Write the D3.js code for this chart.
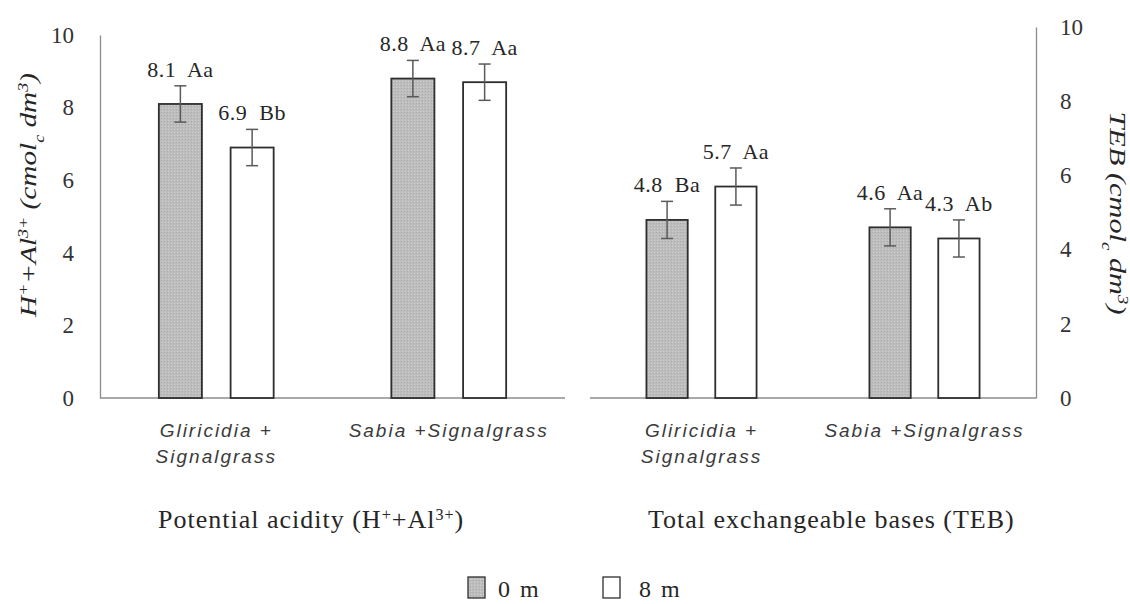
<!DOCTYPE html>
<html>
<head>
<meta charset="utf-8">
<script src="https://cdn.jsdelivr.net/npm/d3@7"></script>
<style>
  body { margin: 0; background: #fff; }
  svg text { font-family: "Liberation Serif", "Times New Roman", serif; fill: #262626; }
</style>
</head>
<body>
<script>
const categories = ["Gliricidia + Signalgrass", "Sabia +Signalgrass"];
const categoryLines = [["Gliricidia +", "Signalgrass"], ["Sabia +Signalgrass"]];
const seriesNames = ["0 m", "8 m"];
const yTicks = [0, 2, 4, 6, 8, 10];

// potential acidity (H+ + Al3+)
const acidity0m = [8.1, 8.8];
const acidity8m = [6.9, 8.7];
const acidityLetters0m = ["Aa", "Aa"];
const acidityLetters8m = ["Bb", "Aa"];
const acidityErr0m = [0.5, 0.5];
const acidityErr8m = [0.5, 0.5];

// total exchangeable bases (TEB)
const teb0m = [4.8, 4.6];
const teb8m = [5.7, 4.3];
const tebLetters0m = ["Ba", "Aa"];
const tebLetters8m = ["Aa", "Ab"];
const tebErr0m = [0.5, 0.5];
const tebErr8m = [0.5, 0.5];

let chart = (function () {
    const width = 1130, height = 604;
    const baseY = 398;
    let svg;

    let panels = [
        {
            title: [["Potential acidity (H"], ["+", "super"], ["+Al"], ["3+", "super"], [")"]],
            axisTitle: [["H"], ["+", "super"], ["+Al"], ["3+", "super"], [" (cmol"], ["c", "sub"], [" dm"], ["3", "super"], [")"]],
            v0: acidity0m, v8: acidity8m, l0: acidityLetters0m, l8: acidityLetters8m, e0: acidityErr0m, e8: acidityErr8m,
            left: 100, right: 565, top: 35, side: "left",
            axisTitlePos: { x: 28, y: 195, rot: -90, len: 244 }
        },
        {
            title: [["Total exchangeable bases (TEB)"]],
            axisTitle: [["TEB (cmol"], ["c", "sub"], [" dm"], ["3", "super"], [")"]],
            v0: teb0m, v8: teb8m, l0: tebLetters0m, l8: tebLetters8m, e0: tebErr0m, e8: tebErr8m,
            left: 590, right: 1036, top: 27, side: "right",
            axisTitlePos: { x: 1118, y: 213, rot: 90, len: 203 }
        }
    ];

    function rich(textSel, parts) {
        parts.forEach((p) => {
            let t = textSel.append("tspan").text(p[0]);
            if (p[1]) {
                t.attr("baseline-shift", p[1]).attr("font-size", "62%");
            }
        });
    }

    function init() {
        svg = d3.select("body").append("svg")
            .attr("width", width)
            .attr("height", height);

        let pat = svg.append("defs").append("pattern")
            .attr("id", "dots")
            .attr("patternUnits", "userSpaceOnUse")
            .attr("width", 3)
            .attr("height", 3);
        pat.append("rect").attr("width", 3).attr("height", 3).attr("fill", "#bdbdbd");
        pat.append("rect").attr("x", 0).attr("y", 0).attr("width", 1).attr("height", 1).attr("fill", "#cfcfcf");
        pat.append("rect").attr("x", 2).attr("y", 1).attr("width", 1).attr("height", 1).attr("fill", "#acacac");
    }

    function drawPanel(p) {
        let x = d3.scaleBand().domain(categories).range([p.left, p.right]);
        let xs = d3.scaleBand().domain(seriesNames).range([0, x.bandwidth()])
            .paddingInner(0.4).paddingOuter(0.82);
        let y = d3.scaleLinear().domain([0, 10]).range([baseY, p.top]);

        let rows = [];
        categories.forEach((c, i) => {
            rows.push({ cat: c, s: seriesNames[0], v: p.v0[i], e: p.e0[i], lab: p.v0[i].toFixed(1) + " " + p.l0[i] });
            rows.push({ cat: c, s: seriesNames[1], v: p.v8[i], e: p.e8[i], lab: p.v8[i].toFixed(1) + " " + p.l8[i] });
        });
        let cx = (d) => x(d.cat) + xs(d.s) + xs.bandwidth() / 2;

        // axis
        let axis = p.side === "left" ? d3.axisLeft(y) : d3.axisRight(y);
        axis.tickValues(yTicks).tickSize(0).tickSizeOuter(0).tickPadding(p.side === "left" ? 26 : 24);
        let g = svg.append("g")
            .attr("transform", `translate(${p.side === "left" ? p.left : p.right},0)`)
            .call(axis)
            .attr("font-family", null);
        g.select(".domain").attr("stroke", "#8c8c8c").attr("stroke-width", 1.3);
        g.selectAll(".tick text")
            .attr("font-size", 23)
            .style("font-family", "'Liberation Serif', serif")
            .style("fill", "#333");

        svg.append("line")
            .attr("x1", p.left).attr("x2", p.right)
            .attr("y1", y(0)).attr("y2", y(0))
            .attr("stroke", "#8c8c8c").attr("stroke-width", 1.3);

        // bars
        svg.append("g").selectAll("rect")
            .data(rows)
            .enter()
            .append("rect")
            .attr("x", (d) => x(d.cat) + xs(d.s))
            .attr("y", (d) => y(d.v))
            .attr("width", xs.bandwidth())
            .attr("height", (d) => y(0) - y(d.v))
            .attr("fill", (d) => d.s === seriesNames[0] ? "url(#dots)" : "#fff")
            .attr("stroke", "#2e2e2e")
            .attr("stroke-width", 1.8);

        // error bars
        let eb = svg.append("g").attr("stroke", "#5a5a5a").attr("stroke-width", 1.5);
        rows.forEach((d) => {
            eb.append("line").attr("x1", cx(d)).attr("x2", cx(d)).attr("y1", y(d.v + d.e)).attr("y2", y(d.v - d.e));
            eb.append("line").attr("x1", cx(d) - 6).attr("x2", cx(d) + 6).attr("y1", y(d.v + d.e)).attr("y2", y(d.v + d.e));
            eb.append("line").attr("x1", cx(d) - 6).attr("x2", cx(d) + 6).attr("y1", y(d.v - d.e)).attr("y2", y(d.v - d.e));
        });

        // value labels
        svg.append("g").selectAll("text")
            .data(rows)
            .enter()
            .append("text")
            .attr("x", cx)
            .attr("y", (d) => y(d.v + d.e) - 9)
            .attr("text-anchor", "middle")
            .attr("font-size", 22)
            .attr("letter-spacing", 0.5)
            .attr("word-spacing", 6)
            .text((d) => d.lab);

        // category labels
        categories.forEach((c, i) => {
            let t = svg.append("text")
                .attr("text-anchor", "middle")
                .attr("font-size", 19)
                .attr("font-style", "italic")
                .attr("letter-spacing", 2)
                .style("font-family", "'Liberation Sans', Arial, sans-serif")
                .style("fill", "#3a3a3a");
            categoryLines[i].forEach((line, j) => {
                t.append("tspan")
                    .attr("x", x(c) + x.bandwidth() / 2)
                    .attr("y", 437 + j * 26)
                    .text(line);
            });
        });

        // panel title
        let tt = svg.append("text")
            .attr("x", p.left + 58)
            .attr("y", 528)
            .attr("font-size", 26)
            .attr("letter-spacing", 1);
        rich(tt, p.title);

        // axis title
        let a = p.axisTitlePos;
        let at = svg.append("text")
            .attr("transform", `translate(${a.x},${a.y}) rotate(${a.rot})`)
            .attr("text-anchor", "middle")
            .attr("dy", "0.35em")
            .attr("font-size", 24)
            .attr("font-style", "italic")
            .attr("textLength", a.len)
            .attr("lengthAdjust", "spacingAndGlyphs");
        rich(at, p.axisTitle);
    }

    function drawLegend() {
        const keyX = [468, 603];
        const labelX = [498, 639];
        let lg = svg.append("g");
        seriesNames.forEach((s, i) => {
            lg.append("rect")
                .attr("x", keyX[i]).attr("y", 577)
                .attr("width", 17).attr("height", 21)
                .attr("fill", i === 0 ? "url(#dots)" : "#fff")
                .attr("stroke", "#2e2e2e").attr("stroke-width", 1.3);
            lg.append("text")
                .attr("x", labelX[i]).attr("y", 597)
                .attr("font-size", 24)
                .attr("word-spacing", 4)
                .text(s);
        });
    }

    return {
        draw: function () {
            init();
            panels.forEach(drawPanel);
            drawLegend();
        }
    };
})();

chart.draw();
</script>
</body>
</html>
